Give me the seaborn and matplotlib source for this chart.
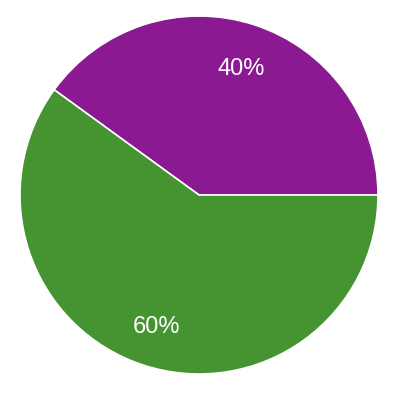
import matplotlib
matplotlib.use("Agg")
import matplotlib.pyplot as plt
import seaborn as sns

labels = ["A", "B"]
values = [40, 60]
colors = ["#8b1a92", "#459331"]

sns.set_style("white")
plt.rcParams['font.family'] = ['Liberation Sans', 'DejaVu Sans']

fig = plt.figure(figsize=(3.99, 3.99), dpi=100)
ax = fig.add_axes([20/399, (399-195-179)/399, 358/399, 358/399])
pal = sns.color_palette(colors)
wedges, texts, autotexts = ax.pie(
    values, colors=pal, startangle=0, counterclock=True,
    autopct=lambda p: f"{p:.0f}%", pctdistance=0.76,
    wedgeprops=dict(edgecolor="white", linewidth=1.2),
    textprops=dict(color="white", fontsize=17),
)
for t in autotexts:
    x, y = t.get_position()
    t.set_position((x, y - 0.017))
    t.set_path_effects([])
ax.set_xlim(-1, 1)
ax.set_ylim(-1, 1)
ax.set_aspect("equal")
ax.axis("off")
fig.savefig("out.png", dpi=100)
